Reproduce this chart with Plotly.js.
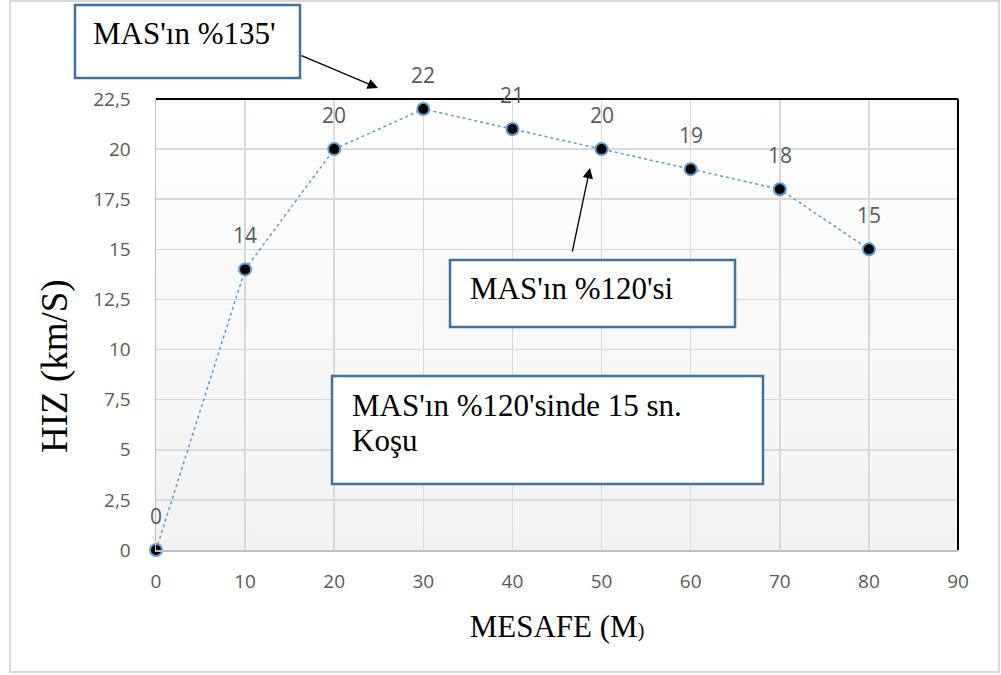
<!DOCTYPE html>
<html>
<head>
<meta charset="utf-8">
<script src="https://cdn.plot.ly/plotly-3.0.1.min.js"></script>
<style>html,body{margin:0;padding:0;background:#fff;}#chart{width:1001px;height:675px;}</style>
</head>
<body>
<div id="chart"></div>
<script>
const distance = [0, 10, 20, 30, 40, 50, 60, 70, 80];
const speed = [0, 14, 20, 22, 21, 20, 19, 18, 15];
const pointLabels = ["0", "14", "20", "22", "21", "20", "19", "18", "15"];
const yTickVals = [0, 2.5, 5, 7.5, 10, 12.5, 15, 17.5, 20, 22.5];
const yTickText = ["0", "2,5", "5", "7,5", "10", "12,5", "15", "17,5", "20", "22,5"];
const xTickVals = [0, 10, 20, 30, 40, 50, 60, 70, 80, 90];

const L = 156, T = 99, W = 802, H = 451;
const px = x => (x - L) / W;
const py = y => 1 - (y - T) / H;

const gradSvg = "data:image/svg+xml;utf8," + encodeURIComponent(
  '<svg xmlns="http://www.w3.org/2000/svg" width="100" height="100" preserveAspectRatio="none">' +
  '<defs><linearGradient id="g" x1="0" y1="0" x2="0" y2="1">' +
  '<stop offset="0" stop-color="#ffffff"/><stop offset="1" stop-color="#f2f2f2"/></linearGradient></defs>' +
  '<rect width="100" height="100" fill="url(#g)"/></svg>');

const trace = {
  x: distance, y: speed,
  mode: "lines+markers",
  line: {color: "#5b9bd5", width: 1.5, dash: "dot"},
  marker: {color: "#000000", size: 12, line: {color: "#5b9bd5", width: 2}},
  cliponaxis: false,
  hoverinfo: "x+y"
};

const serif = "Liberation Serif, Times New Roman, serif";
const boxBorder = "#41719c";
const boxFont = {family: serif, size: 31, color: "#000"};

const annotations = [];
// data labels
distance.forEach((d, i) => {
  annotations.push({x: d, y: speed[i], xref: "x", yref: "y", text: pointLabels[i], showarrow: false,
    yshift: 34, font: {family: "Open Sans, sans-serif", size: 21, color: "#595959"}});
});
// y-axis title placed as in the reference
annotations.push({xref: "paper", yref: "paper", x: px(55), y: py(366), xanchor: "center", yanchor: "middle",
  text: "HIZ (km/S)", textangle: -90, showarrow: false, font: {family: serif, size: 37, color: "#000"}});
// box texts
annotations.push({xref: "paper", yref: "paper", x: px(91), y: py(33), xanchor: "left", yanchor: "middle",
  text: "MAS'ın %135'", showarrow: false, font: boxFont});
annotations.push({xref: "paper", yref: "paper", x: px(468), y: py(288), xanchor: "left", yanchor: "middle",
  text: "MAS'ın %120'si", showarrow: false, font: boxFont});
annotations.push({xref: "paper", yref: "paper", x: px(350), y: py(405), xanchor: "left", yanchor: "middle",
  text: "MAS'ın %120'sinde 15 sn.", showarrow: false, font: boxFont});
annotations.push({xref: "paper", yref: "paper", x: px(350), y: py(440), xanchor: "left", yanchor: "middle",
  text: "Koşu", showarrow: false, font: boxFont});
// arrows: head (hx,hy), tail (tx,ty) in pixels
[[378, 88, 300, 55], [590, 168, 572, 253]].forEach(([hx, hy, tx, ty]) => {
  annotations.push({xref: "paper", yref: "paper", x: px(hx), y: py(hy), ax: tx - hx, ay: ty - hy,
    text: "", showarrow: true, arrowhead: 2, arrowsize: 1.6, arrowwidth: 1.3, arrowcolor: "#000"});
});

const boxRect = (x0, y0, x1, y1) => ({type: "rect", xref: "paper", yref: "paper",
  x0: px(x0), x1: px(x1), y0: py(y1), y1: py(y0),
  line: {color: boxBorder, width: 2.5}, fillcolor: "#ffffff", layer: "above"});

const layout = {
  width: 1001, height: 675,
  margin: {l: L, r: 1001 - L - W, t: T, b: 675 - T - H},
  paper_bgcolor: "#ffffff",
  plot_bgcolor: "rgba(0,0,0,0)",
  showlegend: false,
  font: {family: "Open Sans, sans-serif", color: "#595959"},
  xaxis: {
    range: [0, 90], tickvals: xTickVals, ticks: "", ticklabelstandoff: 14,
    showgrid: true, gridcolor: "#d9d9d9", gridwidth: 1.5,
    zeroline: false, showline: true, linecolor: "#bfbfbf", linewidth: 1.5,
    tickfont: {size: 19, color: "#595959"},
    title: {text: "MESAFE (M<span style='font-size:20px'>)</span>", font: {family: serif, size: 31, color: "#000"}, standoff: 22}
  },
  yaxis: {
    range: [0, 22.5], tickvals: yTickVals, ticktext: yTickText, ticks: "", ticklabelstandoff: 20,
    showgrid: true, gridcolor: "#d9d9d9", gridwidth: 1.5,
    zeroline: false, showline: true, linecolor: "#bfbfbf", linewidth: 1.5,
    tickfont: {size: 19, color: "#595959"}
  },
  images: [{source: gradSvg, xref: "paper", yref: "paper", x: 0, y: 1, sizex: 1, sizey: 1,
            sizing: "stretch", layer: "below", xanchor: "left", yanchor: "top"}],
  shapes: [
    {type: "rect", xref: "paper", yref: "paper", x0: px(10), x1: px(999), y0: py(672), y1: py(1),
     line: {color: "#d9d9d9", width: 2}, fillcolor: "rgba(0,0,0,0)", layer: "below"},
    {type: "line", xref: "paper", yref: "paper", x0: 0, x1: 1, y0: 1, y1: 1, line: {color: "#000", width: 2}},
    {type: "line", xref: "paper", yref: "paper", x0: 1, x1: 1, y0: 0, y1: 1, line: {color: "#000", width: 2}},
    boxRect(75, 5, 300, 78),
    boxRect(450, 260, 735, 327),
    boxRect(332, 376, 763, 484)
  ],
  annotations: annotations
};

Plotly.newPlot("chart", [trace], layout, {displayModeBar: false, staticPlot: true});
</script>
</body>
</html>
